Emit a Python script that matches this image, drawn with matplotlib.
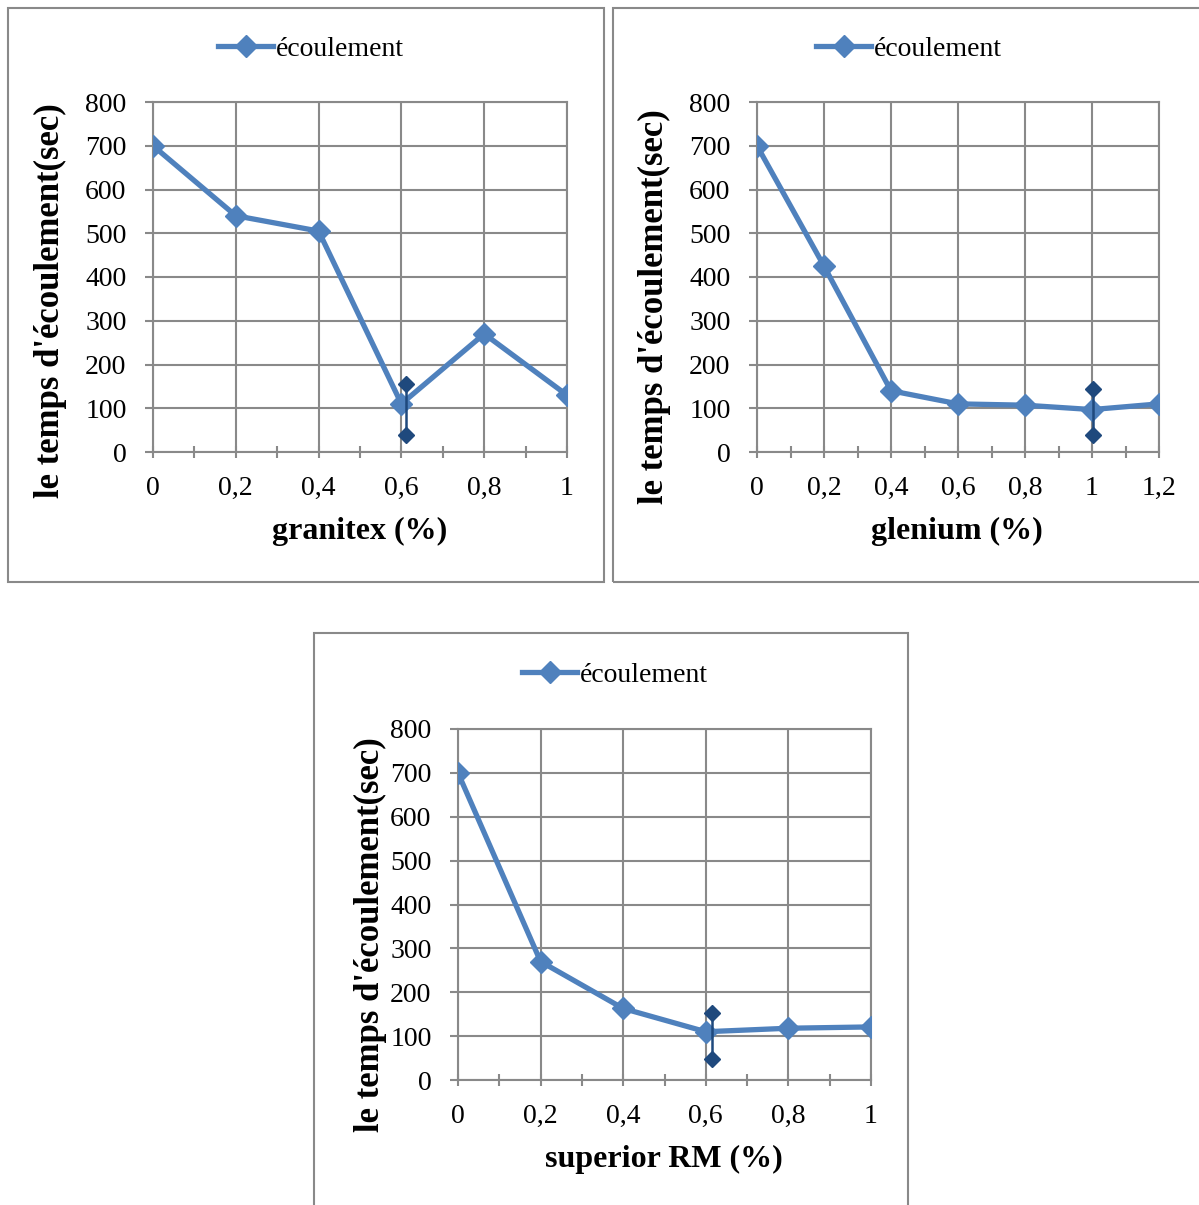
import matplotlib
matplotlib.use("Agg")
import matplotlib.pyplot as plt
from matplotlib.patches import Rectangle
from matplotlib.ticker import MultipleLocator, FuncFormatter

plt.rcParams['font.family'] = ['Liberation Serif', 'DejaVu Serif']

# ---- data ----
x_granitex = [0, 0.2, 0.4, 0.6, 0.8, 1.0]
y_granitex = [700, 540, 505, 110, 270, 130]
err_granitex_x = [0.61, 0.61]
err_granitex_y = [155, 40]

x_glenium = [0, 0.2, 0.4, 0.6, 0.8, 1.0, 1.2]
y_glenium = [700, 425, 140, 110, 107, 97, 110]
err_glenium_x = [1.003, 1.003]
err_glenium_y = [143, 40]

x_superior = [0, 0.2, 0.4, 0.6, 0.8, 1.0]
y_superior = [700, 270, 163, 110, 118, 121]
err_superior_x = [0.615, 0.615]
err_superior_y = [153, 48]

xlabels = ["granitex (%)", "glenium (%)", "superior RM (%)"]
ylabel = "le temps d'écoulement(sec)"
legend_label = "écoulement"

W, H = 1199, 1205
fig = plt.figure(figsize=(W / 100, H / 100), dpi=100)

LINE = '#4F81BD'
DARK = '#1F497D'
GRID = '#898989'


def fx(px):
    return px / W


def fy(py):
    return 1 - py / H


def box(x0, y0, x1, y1):
    fig.patches.append(Rectangle((fx(x0), fy(y1)), fx(x1) - fx(x0), fy(y0) - fy(y1),
                                 transform=fig.transFigure, fill=False,
                                 edgecolor=GRID, linewidth=1.5))


def fmt(v, pos):
    s = ('%g' % round(v, 2)).replace('.', ',')
    return s


def panel(l, r, t, b, xs, ys, ex, ey, xmax, xlabel, ylab_pos, xlab_pos, leg_pos):
    ax = fig.add_axes([fx(l), fy(b), fx(r) - fx(l), fy(t) - fy(b)])
    ax.plot(xs, ys, color=LINE, linewidth=3.8, marker='D', markersize=11,
            markerfacecolor=LINE, markeredgecolor=LINE, label=legend_label, zorder=3)
    ax.plot(ex, ey, color=DARK, linewidth=1.8, marker='D', markersize=8,
            markerfacecolor=DARK, markeredgecolor=DARK, zorder=4, clip_on=False)
    ax.set_xlim(0, xmax)
    ax.set_ylim(0, 800)
    ax.xaxis.set_major_locator(MultipleLocator(0.2))
    ax.xaxis.set_minor_locator(MultipleLocator(0.1))
    ax.yaxis.set_major_locator(MultipleLocator(100))
    ax.xaxis.set_major_formatter(FuncFormatter(fmt))
    ax.grid(True, which='major', color=GRID, linewidth=1.5)
    for s in ax.spines.values():
        s.set_color(GRID)
        s.set_linewidth(1.5)
    ax.tick_params(axis='x', which='both', direction='inout', length=9, width=1.5,
                   color=GRID, labelsize=20, pad=13)
    ax.tick_params(axis='y', which='major', direction='out', length=6, width=1.5,
                   color=GRID, labelsize=20, pad=13)
    ax.set_axisbelow(True)
    fig.text(fx(ylab_pos[0]), fy(ylab_pos[1]), ylabel, rotation=90, ha='center',
             va='center', fontsize=25, fontweight='bold')
    fig.text(fx(xlab_pos[0]), fy(xlab_pos[1]), xlabel, ha='center', va='center',
             fontsize=23, fontweight='bold')
    ax.legend(loc='center', bbox_to_anchor=(fx(leg_pos[0]), fy(leg_pos[1])),
              bbox_transform=fig.transFigure, frameon=False, fontsize=20,
              handlelength=2.0, handletextpad=0.1, borderpad=0)
    return ax


box(8, 8, 604, 582)
box(613, 8, 1205, 582)
box(314, 633, 908, 1210)

panel(153, 567, 102, 452, x_granitex, y_granitex, err_granitex_x, err_granitex_y, 1.0,
      xlabels[0], (50, 301), (360, 531), (311, 49))
panel(757, 1159, 102, 452, x_glenium, y_glenium, err_glenium_x, err_glenium_y, 1.2,
      xlabels[1], (654, 307), (957, 531), (909, 49))
panel(458, 871, 729, 1080, x_superior, y_superior, err_superior_x, err_superior_y, 1.0,
      xlabels[2], (370, 935), (664, 1159), (615, 675))

fig.savefig('out.png', dpi=100)
